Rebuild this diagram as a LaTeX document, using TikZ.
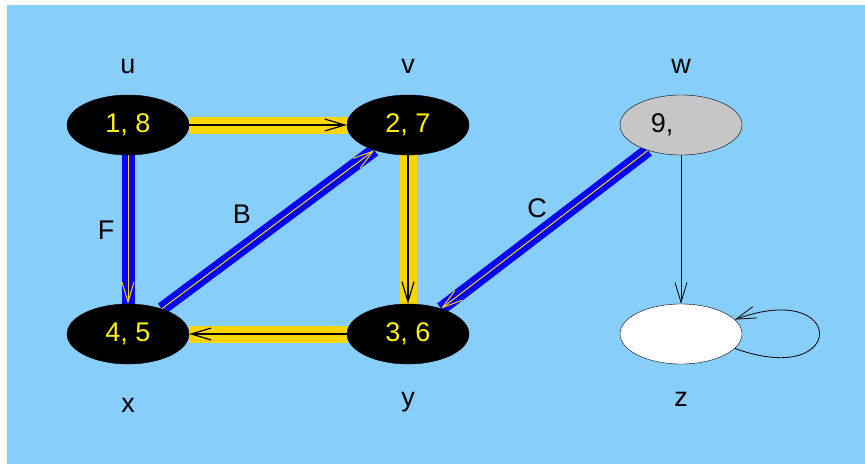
\documentclass[tikz,border=0pt]{standalone}
\usepackage{fontspec}
\setmainfont{Liberation Sans}
\usetikzlibrary{shapes.geometric,arrows.meta,backgrounds}
\definecolor{skyback}{RGB}{135,206,250}
\definecolor{band}{RGB}{255,213,0}
\definecolor{greynode}{RGB}{198,198,198}
\tikzset{
  vert/.style={ellipse,draw=black,minimum width=122pt,minimum height=60pt,
    inner sep=0pt,font=\fontsize{27}{32}\selectfont},
  finished/.style={vert,fill=black,text=yellow},
  lab/.style={font=\fontsize{27}{32}\selectfont,anchor=base},
  tip/.style={-{Straight Barb[length=20pt,width=12pt]}},
}

\begin{document}
\begin{tikzpicture}[x=1pt,y=-1pt]
 \useasboundingbox (0,0) rectangle (865,464);
 \node[finished] (u) at (128,125) {1, 8};
 \node[finished] (v) at (408,125) {2, 7};
 \node[vert,fill=greynode] (w) at (681,125) {9, \phantom{10}};
 \node[finished] (x) at (128,334) {4, 5};
 \node[finished] (y) at (408,334) {3, 6};
 \node[vert,fill=white] (z) at (681,334) {};
 \node[lab] (lu) at (128,73) {u};
 \node[lab] (lv) at (408,73) {v};
 \node[lab] (lw) at (681,73) {w};
 \node[lab] (lx) at (128,412) {x};
 \node[lab] (ly) at (408,406) {y};
 \node[lab] (lz) at (681,406) {z};
 \begin{scope}[on background layer]
  \fill[skyback] (7,5) rectangle (865,464);
  % tree edges
  \foreach \a/\b in {u/x,x/v,w/y} {
    \draw[blue,line width=13pt] (\a) -- (\b);
    \draw[tip,band,line width=1pt] (\a) -- (\b);
  }
  % other edges
  \foreach \a/\b in {u/v,v/y,y/x} {
    \draw[band,line width=17pt] (\a) -- (\b);
    \draw[tip,black,line width=1.2pt] (\a) -- (\b);
  }
 \end{scope}
 \node[lab] (lF) at (106,239) {F};
 \node[lab] (lB) at (242,223) {B};
 \node[lab] (lC) at (537,217) {C};
 \draw[tip,line width=0.8pt] (w) -- (z);
 \draw[tip,line width=0.8pt] (z.-15) .. controls +(20:120) and +(-20:120) .. (z.15);
\end{tikzpicture}
\end{document}
